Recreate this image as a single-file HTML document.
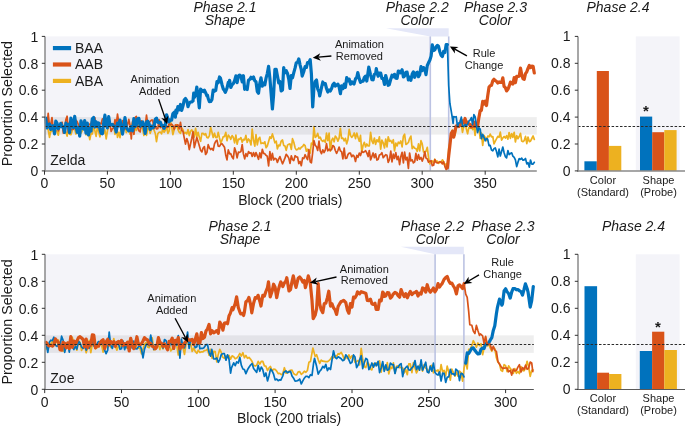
<!DOCTYPE html>
<html><head><meta charset="utf-8"><style>
html,body{margin:0;padding:0;background:#fff;}
svg{display:block;will-change:transform;}
.t{font-family:"Liberation Sans",sans-serif;font-size:14px;fill:#1a1a1a;}
.ti{font-family:"Liberation Sans",sans-serif;font-size:14px;font-style:italic;fill:#1a1a1a;}
.yl{font-size:14.25px;}
.a{font-family:"Liberation Sans",sans-serif;font-size:11px;fill:#1a1a1a;}
.star{font-family:"Liberation Sans",sans-serif;font-size:15px;font-weight:bold;fill:#1a1a1a;}
</style></head><body>
<svg width="685" height="430" viewBox="0 0 685 430">
<rect x="45.0" y="36.400000000000006" width="385.3" height="134.5" fill="#F4F4F9"/>
<polygon points="386,28.2 448.7,28.2 448.7,36.400000000000006 430.3,36.400000000000006" fill="#E4E7F8"/>
<rect x="45.0" y="117.1" width="491.8" height="17.5" fill="#000" fill-opacity="0.065"/>
<line x1="430.3" y1="36.400000000000006" x2="430.3" y2="170.9" stroke="#BCC3E3" stroke-width="1.6"/>
<line x1="448.7" y1="36.400000000000006" x2="448.7" y2="170.9" stroke="#BCC3E3" stroke-width="1.6"/>
<path d="M45.7,122.7 L47.0,128.1 L48.2,129.5 L49.5,137.4 L50.7,131.0 L52.0,131.3 L53.3,130.2 L54.5,132.4 L55.8,130.1 L57.0,131.8 L58.3,135.2 L59.6,126.3 L60.8,126.3 L62.1,123.0 L63.3,129.7 L64.6,131.5 L65.9,132.1 L67.1,136.1 L68.4,125.9 L69.6,134.3 L70.9,134.7 L72.2,130.7 L73.4,123.9 L74.7,128.9 L75.9,134.0 L77.2,132.8 L78.5,127.4 L79.7,130.5 L81.0,133.0 L82.2,130.8 L83.5,126.9 L84.7,121.9 L86.0,134.9 L87.3,132.4 L88.5,133.1 L89.8,139.6 L91.0,133.6 L92.3,134.0 L93.6,125.3 L94.8,130.4 L96.1,136.4 L97.3,127.3 L98.6,131.3 L99.9,136.9 L101.1,132.3 L102.4,132.3 L103.6,133.4 L104.9,129.8 L106.2,138.9 L107.4,131.0 L108.7,125.8 L109.9,126.4 L111.2,125.4 L112.5,125.4 L113.7,123.9 L115.0,134.4 L116.2,126.5 L117.5,137.4 L118.7,132.3 L120.0,137.6 L121.3,125.6 L122.5,124.5 L123.8,130.7 L125.0,122.7 L126.3,132.6 L127.6,129.3 L128.8,129.3 L130.1,134.2 L131.3,128.1 L132.6,122.1 L133.9,134.0 L135.1,126.2 L136.4,130.5 L137.6,122.7 L138.9,127.9 L140.2,127.1 L141.4,127.3 L142.7,128.9 L143.9,135.5 L145.2,124.3 L146.5,135.4 L147.7,128.9 L149.0,127.4 L150.2,133.3 L151.5,129.3 L152.7,125.2 L154.0,130.0 L155.3,133.5 L156.5,141.6 L157.8,133.8 L159.0,132.3 L160.3,132.0 L161.6,133.8 L162.8,128.4 L164.1,132.2 L165.3,130.3 L166.6,127.1 L167.9,133.3 L169.1,131.1 L170.4,121.2 L171.6,126.1 L172.9,134.6 L174.2,129.5 L175.4,127.2 L176.7,124.7 L177.9,129.3 L179.2,132.2 L180.5,133.3 L181.7,127.9 L183.0,129.7 L184.2,133.4 L185.5,132.5 L186.8,133.8 L188.0,129.5 L189.3,135.6 L190.5,131.3 L191.8,129.9 L193.0,131.5 L194.3,137.0 L195.6,128.3 L196.8,136.6 L198.1,132.3 L199.3,137.1 L200.6,141.3 L201.9,133.4 L203.1,133.3 L204.4,134.9 L205.6,133.6 L206.9,137.4 L208.2,137.9 L209.4,135.7 L210.7,127.4 L211.9,132.0 L213.2,137.5 L214.5,133.2 L215.7,137.5 L217.0,137.6 L218.2,132.4 L219.5,138.0 L220.8,143.0 L222.0,140.2 L223.3,136.5 L224.5,136.6 L225.8,132.4 L227.0,140.7 L228.3,135.1 L229.6,136.7 L230.8,139.3 L232.1,135.6 L233.3,137.3 L234.6,142.8 L235.9,135.0 L237.1,144.2 L238.4,139.1 L239.6,139.3 L240.9,137.6 L242.2,142.2 L243.4,139.4 L244.7,139.9 L245.9,135.3 L247.2,142.5 L248.5,139.0 L249.7,140.5 L251.0,144.9 L252.2,129.0 L253.5,140.3 L254.8,146.1 L256.0,134.6 L257.3,144.8 L258.5,139.1 L259.8,137.3 L261.0,143.6 L262.3,142.9 L263.6,143.5 L264.8,141.8 L266.1,147.7 L267.3,146.1 L268.6,141.6 L269.9,136.8 L271.1,138.4 L272.4,133.9 L273.6,138.0 L274.9,142.8 L276.2,141.2 L277.4,148.8 L278.7,145.0 L279.9,145.8 L281.2,141.1 L282.5,140.0 L283.7,145.4 L285.0,146.0 L286.2,150.4 L287.5,145.2 L288.8,144.2 L290.0,143.9 L291.3,149.3 L292.5,138.7 L293.8,142.2 L295.1,147.8 L296.3,149.9 L297.6,149.5 L298.8,147.9 L300.1,149.0 L301.3,147.3 L302.6,146.5 L303.9,144.5 L305.1,145.7 L306.4,151.2 L307.6,149.2 L308.9,152.3 L310.2,153.1 L311.4,143.0 L312.7,144.5 L313.9,126.6 L315.2,137.3 L316.5,136.3 L317.7,133.4 L319.0,138.2 L320.2,137.2 L321.5,140.3 L322.8,141.3 L324.0,140.2 L325.3,142.3 L326.5,133.2 L327.8,140.6 L329.1,133.1 L330.3,151.1 L331.6,140.3 L332.8,138.2 L334.1,141.8 L335.3,136.0 L336.6,137.7 L337.9,141.1 L339.1,138.1 L340.4,128.3 L341.6,138.4 L342.9,138.0 L344.2,140.8 L345.4,138.3 L346.7,143.8 L347.9,139.8 L349.2,129.4 L350.5,135.3 L351.7,137.4 L353.0,135.8 L354.2,133.0 L355.5,138.6 L356.8,133.0 L358.0,137.3 L359.3,141.3 L360.5,135.4 L361.8,152.2 L363.1,145.3 L364.3,142.3 L365.6,147.0 L366.8,144.0 L368.1,145.9 L369.3,146.0 L370.6,132.4 L371.9,140.8 L373.1,143.5 L374.4,138.0 L375.6,144.3 L376.9,139.8 L378.2,141.9 L379.4,136.8 L380.7,149.1 L381.9,140.2 L383.2,142.8 L384.5,148.0 L385.7,139.0 L387.0,146.8 L388.2,136.8 L389.5,141.3 L390.8,140.5 L392.0,143.0 L393.3,139.7 L394.5,150.9 L395.8,143.0 L397.1,145.9 L398.3,142.2 L399.6,143.5 L400.8,140.9 L402.1,146.8 L403.4,136.1 L404.6,134.2 L405.9,144.4 L407.1,143.7 L408.4,142.5 L409.6,138.6 L410.9,136.1 L412.2,148.7 L413.4,146.4 L414.7,148.2 L415.9,148.5 L417.2,151.3 L418.5,143.9 L419.7,150.8 L421.0,140.7 L422.2,143.8 L423.5,151.9 L424.8,152.1 L426.0,151.2 L427.3,147.4 L428.5,157.3 L429.8,163.9 L431.1,161.6 L432.3,161.0 L433.6,162.8 L434.8,159.2 L436.1,161.5 L437.4,161.2 L438.6,163.4 L439.9,162.1 L441.1,162.4 L442.4,159.8 L443.6,161.7 L444.9,165.7 L446.2,163.6 L447.4,167.8 L448.7,148.2 L449.9,142.9 L451.2,135.7 L452.5,130.1 L453.7,132.3 L455.0,135.4 L456.2,128.8 L457.5,124.6 L458.8,127.2 L460.0,124.8 L461.3,124.2 L462.5,132.3 L463.8,126.2 L465.1,120.5 L466.3,128.9 L467.6,133.8 L468.8,127.6 L470.1,128.3 L471.4,125.3 L472.6,129.6 L473.9,126.2 L475.1,135.3 L476.4,126.3 L477.6,125.2 L478.9,127.5 L480.2,138.3 L481.4,133.2 L482.7,145.3 L483.9,135.3 L485.2,137.5 L486.5,140.6 L487.7,136.1 L489.0,136.8 L490.2,134.1 L491.5,136.8 L492.8,136.5 L494.0,143.8 L495.3,141.2 L496.5,138.9 L497.8,136.3 L499.1,137.3 L500.3,132.2 L501.6,140.2 L502.8,138.1 L504.1,136.4 L505.4,138.1 L506.6,135.6 L507.9,139.2 L509.1,132.5 L510.4,138.3 L511.7,133.5 L512.9,137.4 L514.2,132.3 L515.4,142.0 L516.7,135.5 L517.9,138.7 L519.2,136.5 L520.5,133.3 L521.7,141.1 L523.0,141.7 L524.2,140.6 L525.5,136.4 L526.8,143.6 L528.0,137.0 L529.3,141.6 L530.5,141.1 L531.8,138.5 L533.1,136.0 L534.3,139.4" fill="none" stroke="#EDB120" stroke-width="1.7" stroke-linejoin="round" stroke-linecap="round"/>
<path d="M45.7,123.0 L47.0,126.8 L48.2,113.4 L49.5,126.4 L50.7,124.6 L52.0,117.5 L53.3,129.6 L54.5,128.0 L55.8,124.3 L57.0,126.8 L58.3,130.9 L59.6,126.2 L60.8,126.9 L62.1,122.2 L63.3,133.2 L64.6,128.6 L65.9,119.6 L67.1,116.2 L68.4,132.5 L69.6,122.0 L70.9,129.9 L72.2,129.3 L73.4,129.4 L74.7,127.2 L75.9,120.3 L77.2,121.7 L78.5,124.9 L79.7,126.9 L81.0,125.2 L82.2,125.7 L83.5,121.3 L84.7,128.2 L86.0,125.2 L87.3,125.7 L88.5,125.4 L89.8,124.0 L91.0,124.2 L92.3,118.7 L93.6,125.6 L94.8,117.6 L96.1,126.7 L97.3,127.5 L98.6,124.7 L99.9,123.4 L101.1,123.9 L102.4,118.9 L103.6,119.7 L104.9,122.8 L106.2,126.8 L107.4,125.7 L108.7,118.3 L109.9,124.1 L111.2,131.5 L112.5,128.5 L113.7,128.0 L115.0,119.6 L116.2,125.7 L117.5,114.2 L118.7,122.0 L120.0,124.6 L121.3,127.3 L122.5,120.5 L123.8,126.3 L125.0,129.2 L126.3,122.4 L127.6,125.1 L128.8,119.4 L130.1,125.5 L131.3,139.0 L132.6,121.3 L133.9,134.3 L135.1,117.7 L136.4,116.4 L137.6,127.2 L138.9,130.8 L140.2,131.9 L141.4,120.9 L142.7,126.1 L143.9,128.1 L145.2,126.3 L146.5,115.1 L147.7,123.5 L149.0,121.6 L150.2,121.4 L151.5,120.2 L152.7,120.0 L154.0,128.6 L155.3,126.2 L156.5,128.9 L157.8,128.6 L159.0,119.6 L160.3,127.6 L161.6,125.6 L162.8,128.5 L164.1,128.0 L165.3,121.4 L166.6,127.3 L167.9,127.5 L169.1,123.8 L170.4,124.8 L171.6,124.2 L172.9,125.5 L174.2,129.4 L175.4,124.9 L176.7,125.5 L177.9,124.8 L179.2,128.9 L180.5,122.4 L181.7,130.3 L183.0,131.3 L184.2,137.6 L185.5,144.1 L186.8,138.5 L188.0,142.1 L189.3,149.6 L190.5,144.0 L191.8,138.2 L193.0,131.8 L194.3,147.6 L195.6,142.5 L196.8,137.4 L198.1,141.6 L199.3,145.8 L200.6,150.2 L201.9,151.9 L203.1,148.0 L204.4,146.7 L205.6,154.5 L206.9,152.5 L208.2,144.7 L209.4,147.9 L210.7,149.5 L211.9,148.3 L213.2,150.4 L214.5,143.8 L215.7,141.4 L217.0,140.1 L218.2,146.1 L219.5,146.4 L220.8,144.1 L222.0,143.7 L223.3,145.5 L224.5,147.2 L225.8,155.3 L227.0,159.9 L228.3,149.9 L229.6,153.8 L230.8,153.7 L232.1,157.1 L233.3,158.8 L234.6,147.9 L235.9,151.7 L237.1,157.9 L238.4,152.1 L239.6,152.4 L240.9,151.6 L242.2,144.7 L243.4,153.9 L244.7,158.9 L245.9,153.6 L247.2,156.4 L248.5,151.6 L249.7,153.1 L251.0,152.7 L252.2,156.5 L253.5,152.6 L254.8,156.5 L256.0,152.5 L257.3,155.9 L258.5,159.3 L259.8,152.9 L261.0,157.9 L262.3,149.3 L263.6,153.5 L264.8,153.7 L266.1,155.4 L267.3,156.3 L268.6,166.0 L269.9,151.7 L271.1,160.2 L272.4,153.3 L273.6,160.0 L274.9,158.3 L276.2,158.9 L277.4,162.4 L278.7,159.1 L279.9,156.6 L281.2,160.3 L282.5,163.8 L283.7,161.1 L285.0,157.9 L286.2,154.4 L287.5,155.8 L288.8,158.1 L290.0,163.4 L291.3,155.8 L292.5,159.5 L293.8,160.5 L295.1,155.7 L296.3,156.8 L297.6,157.1 L298.8,163.7 L300.1,161.4 L301.3,165.7 L302.6,157.9 L303.9,158.5 L305.1,154.7 L306.4,157.5 L307.6,159.7 L308.9,149.5 L310.2,161.9 L311.4,162.8 L312.7,152.5 L313.9,140.5 L315.2,145.2 L316.5,146.7 L317.7,150.5 L319.0,141.2 L320.2,150.8 L321.5,153.7 L322.8,149.8 L324.0,152.5 L325.3,150.1 L326.5,143.7 L327.8,150.8 L329.1,149.2 L330.3,150.4 L331.6,149.6 L332.8,145.5 L334.1,146.6 L335.3,150.5 L336.6,153.3 L337.9,150.5 L339.1,147.0 L340.4,150.9 L341.6,151.7 L342.9,158.9 L344.2,148.0 L345.4,158.5 L346.7,158.1 L347.9,154.6 L349.2,153.1 L350.5,153.2 L351.7,156.7 L353.0,155.1 L354.2,156.4 L355.5,161.5 L356.8,155.4 L358.0,157.3 L359.3,153.0 L360.5,155.5 L361.8,151.2 L363.1,152.4 L364.3,151.8 L365.6,150.7 L366.8,152.9 L368.1,156.5 L369.3,150.5 L370.6,159.9 L371.9,156.4 L373.1,153.0 L374.4,157.7 L375.6,153.8 L376.9,160.1 L378.2,159.2 L379.4,155.0 L380.7,154.4 L381.9,152.6 L383.2,157.7 L384.5,156.1 L385.7,154.7 L387.0,155.3 L388.2,162.3 L389.5,159.3 L390.8,151.1 L392.0,161.9 L393.3,154.2 L394.5,158.4 L395.8,152.6 L397.1,159.7 L398.3,156.3 L399.6,164.6 L400.8,156.7 L402.1,152.3 L403.4,162.8 L404.6,152.1 L405.9,159.9 L407.1,157.3 L408.4,168.4 L409.6,153.0 L410.9,161.0 L412.2,159.8 L413.4,162.9 L414.7,161.9 L415.9,153.4 L417.2,160.2 L418.5,154.7 L419.7,159.3 L421.0,157.4 L422.2,161.1 L423.5,157.8 L424.8,151.6 L426.0,158.1 L427.3,158.9 L428.5,162.2 L429.8,161.2 L431.1,160.7 L432.3,165.7 L433.6,165.3 L434.8,159.7 L436.1,162.5 L437.4,163.0 L438.6,162.4 L439.9,161.6 L441.1,162.1 L442.4,163.9 L443.6,161.7 L444.9,166.6 L446.2,169.7 L447.4,167.9" fill="none" stroke="#D95319" stroke-width="1.7" stroke-linejoin="round" stroke-linecap="round"/>
<path d="M447.4,167.9 L448.7,155.9 L449.9,145.2 L451.2,133.6 L452.5,131.3 L453.7,137.2 L455.0,130.8 L456.2,125.9 L457.5,125.4 L458.8,126.5 L460.0,125.1 L461.3,120.2 L462.5,121.6 L463.8,122.8 L465.1,118.5 L466.3,123.6 L467.6,122.1 L468.8,124.1 L470.1,124.5 L471.4,127.1 L472.6,126.6 L473.9,122.1 L475.1,126.7 L476.4,123.5 L477.6,126.2 L478.9,117.6 L480.2,110.5 L481.4,110.3 L482.7,101.4 L483.9,104.0 L485.2,101.2 L486.5,105.5 L487.7,96.0 L489.0,87.3 L490.2,85.7 L491.5,85.2 L492.8,80.7 L494.0,79.2 L495.3,80.7 L496.5,81.4 L497.8,83.1 L499.1,81.9 L500.3,82.5 L501.6,82.3 L502.8,77.8 L504.1,86.5 L505.4,87.6 L506.6,90.9 L507.9,89.3 L509.1,86.4 L510.4,82.1 L511.7,83.5 L512.9,84.0 L514.2,77.5 L515.4,82.6 L516.7,76.4 L517.9,76.5 L519.2,76.2 L520.5,68.0 L521.7,74.5 L523.0,78.8 L524.2,79.3 L525.5,73.7 L526.8,71.8 L528.0,68.4 L529.3,65.5 L530.5,67.6 L531.8,66.2 L533.1,66.4 L534.3,73.0" fill="none" stroke="#D95319" stroke-width="3.2" stroke-linejoin="round" stroke-linecap="round"/>
<path d="M45.7,118.1 L47.0,128.0 L48.2,125.7 L49.5,124.0 L50.7,129.4 L52.0,125.8 L53.3,125.8 L54.5,133.8 L55.8,121.1 L57.0,123.0 L58.3,128.6 L59.6,126.5 L60.8,123.4 L62.1,126.9 L63.3,126.8 L64.6,132.4 L65.9,123.2 L67.1,125.2 L68.4,124.5 L69.6,132.7 L70.9,118.1 L72.2,125.0 L73.4,127.5 L74.7,116.4 L75.9,125.9 L77.2,132.3 L78.5,127.5 L79.7,136.1 L81.0,120.8 L82.2,127.5 L83.5,129.0 L84.7,120.7 L86.0,133.2 L87.3,123.2 L88.5,135.0 L89.8,128.6 L91.0,131.1 L92.3,118.9 L93.6,117.5 L94.8,127.1 L96.1,121.7 L97.3,126.4 L98.6,122.9 L99.9,129.0 L101.1,133.3 L102.4,133.8 L103.6,123.8 L104.9,115.2 L106.2,124.3 L107.4,127.9 L108.7,116.7 L109.9,124.4 L111.2,125.0 L112.5,124.3 L113.7,126.1 L115.0,126.9 L116.2,132.0 L117.5,123.1 L118.7,125.9 L120.0,120.0 L121.3,127.1 L122.5,134.1 L123.8,125.9 L125.0,117.6 L126.3,127.1 L127.6,129.5 L128.8,130.8 L130.1,130.2 L131.3,126.7 L132.6,130.8 L133.9,118.5 L135.1,126.6 L136.4,124.8 L137.6,118.8 L138.9,118.4 L140.2,126.3 L141.4,123.8 L142.7,121.9 L143.9,126.2 L145.2,133.4 L146.5,122.3 L147.7,121.2 L149.0,123.4 L150.2,129.5 L151.5,126.1 L152.7,127.9 L154.0,126.6 L155.3,119.3 L156.5,118.2 L157.8,122.2 L159.0,122.7 L160.3,122.1 L161.6,125.3 L162.8,125.5 L164.1,128.3 L165.3,125.4 L166.6,114.8 L167.9,118.7 L169.1,121.8 L170.4,119.9 L171.6,120.1 L172.9,113.6 L174.2,112.3 L175.4,117.1 L176.0,110.2 L176.7,113.1 L177.9,106.6 L179.2,109.8 L180.5,104.5 L181.7,110.4 L183.0,105.8 L184.2,100.1 L185.5,98.5 L186.8,100.6 L188.0,106.6 L189.3,103.1 L190.5,102.0 L191.8,101.8 L193.0,101.0 L193.7,93.1 L194.3,97.5 L195.6,95.1 L196.8,87.0 L198.1,96.5 L199.3,107.9 L200.6,89.2 L201.9,90.6 L203.1,91.5 L204.4,90.2 L205.6,92.7 L206.9,95.8 L207.5,95.3 L208.2,98.5 L209.4,101.7 L210.7,101.5 L211.9,99.7 L213.2,90.0 L214.1,91.5 L215.7,90.5 L217.0,81.6 L218.2,82.7 L219.5,77.0 L220.5,78.3 L222.0,84.7 L223.3,89.0 L224.5,90.7 L225.3,92.4 L227.0,88.1 L228.3,82.4 L228.9,84.0 L229.6,80.3 L230.8,87.5 L232.1,84.6 L233.3,83.7 L234.6,80.6 L235.9,75.9 L237.1,82.7 L238.4,76.1 L239.6,75.1 L240.9,76.1 L242.2,82.0 L242.8,78.2 L243.4,75.7 L244.7,89.3 L245.9,87.0 L246.6,86.9 L247.2,89.5 L248.5,80.1 L249.7,79.5 L251.0,77.3 L252.2,78.6 L253.5,77.0 L254.8,80.8 L256.0,81.8 L257.3,91.6 L258.5,93.3 L259.8,83.3 L261.0,77.8 L262.3,86.2 L263.6,83.1 L264.8,84.9 L266.1,77.9 L267.3,73.6 L268.6,66.4 L269.9,78.4 L271.1,93.0 L272.4,109.0 L273.6,94.8 L274.9,69.4 L276.2,69.3 L277.4,75.8 L278.7,82.9 L279.9,81.4 L281.2,91.0 L282.5,90.0 L283.7,67.5 L284.5,73.0 L286.2,70.6 L287.5,73.4 L288.8,79.4 L290.0,88.5 L291.3,75.5 L292.5,77.9 L293.8,72.7 L295.1,67.9 L296.3,62.7 L297.6,62.3 L298.8,58.9 L300.1,65.1 L301.3,69.5 L302.2,76.1 L303.9,71.2 L305.1,66.7 L306.4,67.4 L307.6,62.5 L308.9,62.6 L310.2,59.7 L311.4,73.9 L312.7,106.9 L313.9,88.4 L315.2,81.6 L316.5,80.0 L317.7,88.8 L319.0,91.8 L319.7,96.0 L321.5,87.6 L322.8,82.0 L323.4,84.3 L324.0,83.5 L325.3,83.6 L326.5,88.5 L327.8,92.0 L329.1,90.0 L330.3,91.0 L331.6,88.6 L332.8,84.7 L334.1,83.2 L335.3,86.1 L336.6,85.0 L337.9,84.2 L339.1,86.9 L340.4,93.7 L341.6,85.8 L342.9,88.7 L344.2,84.1 L345.4,87.4 L346.7,77.7 L347.9,80.8 L349.2,79.1 L350.5,84.2 L351.7,81.8 L353.0,83.2 L354.0,84.0 L355.5,78.9 L356.8,77.4 L357.8,72.5 L359.3,79.0 L360.5,82.4 L361.8,81.3 L363.1,81.2 L364.3,77.6 L365.6,76.1 L366.8,81.0 L368.1,71.9 L368.8,67.0 L370.6,75.1 L371.9,79.6 L372.5,78.5 L373.1,79.8 L374.4,74.2 L375.6,73.9 L376.3,68.6 L376.9,71.7 L378.2,76.2 L379.4,73.2 L380.7,73.1 L381.9,78.4 L383.2,78.5 L384.5,84.5 L385.7,75.5 L387.0,80.3 L388.2,85.3 L389.2,84.7 L390.8,79.0 L392.0,75.2 L393.3,76.8 L394.5,74.3 L395.8,78.2 L397.1,78.3 L398.3,71.1 L399.6,71.6 L400.3,72.8 L402.1,69.8 L403.4,77.0 L404.6,76.0 L405.9,72.4 L407.1,72.2 L408.4,79.9 L409.6,77.2 L410.9,80.3 L412.2,74.0 L413.4,71.9 L414.7,77.3 L415.9,73.1 L417.2,72.3 L418.5,76.7 L419.7,74.7 L421.0,66.7 L422.2,70.7 L423.5,67.6 L424.8,69.2 L426.0,74.6 L427.3,65.5 L428.5,62.8 L429.8,60.3 L431.1,56.1 L432.3,44.9 L433.6,50.5 L434.8,49.9 L436.1,46.8 L437.4,45.4 L438.4,46.0 L439.9,52.0 L441.1,55.3 L442.4,56.5 L443.6,51.3 L444.9,52.5 L446.2,44.5 L447.4,44.5" fill="none" stroke="#0072BD" stroke-width="3.2" stroke-linejoin="round" stroke-linecap="round"/>
<path d="M447.4,44.5 L448.7,85.7 L449.9,103.5 L451.2,110.8 L452.5,119.0 L453.1,123.4 L453.7,116.7 L455.0,117.0 L456.2,116.7 L457.5,126.6 L458.8,122.8 L460.0,122.9 L461.3,117.2 L462.5,125.6 L463.8,126.7 L465.1,124.4 L466.3,125.8 L467.6,124.2 L468.8,121.2 L470.1,120.2 L471.4,117.6 L472.6,124.7 L473.9,114.7 L475.1,116.6 L476.4,124.8 L477.6,132.6 L478.9,127.8 L480.2,129.0 L481.4,138.7 L482.7,134.4 L483.9,137.1 L485.2,140.8 L486.5,138.5 L487.7,139.3 L489.0,145.6 L490.2,145.4 L491.5,150.0 L492.8,150.8 L494.0,148.7 L495.3,147.9 L496.5,151.6 L497.8,156.9 L499.1,149.1 L500.3,156.0 L501.6,151.4 L502.8,147.0 L504.1,152.7 L505.4,156.7 L506.6,157.9 L507.9,150.6 L509.1,154.6 L510.4,153.5 L511.7,152.8 L512.9,156.2 L514.2,157.4 L515.4,159.8 L516.7,166.6 L517.9,162.4 L519.2,158.6 L520.5,159.4 L521.7,158.2 L523.0,160.2 L524.2,159.9 L525.5,158.5 L526.8,163.9 L528.0,162.7 L529.3,167.1 L530.5,160.0 L531.8,164.1 L533.1,164.1 L534.3,162.3" fill="none" stroke="#0072BD" stroke-width="1.7" stroke-linejoin="round" stroke-linecap="round"/>
<line x1="45.0" y1="126.5" x2="536.8" y2="126.5" stroke="#2a2a2a" stroke-width="1.1" stroke-dasharray="2.5,1.7"/>
<line x1="45.0" y1="36.400000000000006" x2="45.0" y2="171.65" stroke="#8a8a8a" stroke-width="1.5"/>
<line x1="44.25" y1="170.9" x2="536.8" y2="170.9" stroke="#8a8a8a" stroke-width="1.5"/>
<line x1="41.8" y1="170.9" x2="45.0" y2="170.9" stroke="#333" stroke-width="1"/>
<text transform="translate(38.3,176.1) scale(1.0,1)" text-anchor="end" class="t">0</text>
<line x1="41.8" y1="144.0" x2="45.0" y2="144.0" stroke="#333" stroke-width="1"/>
<text transform="translate(38.3,149.2) scale(1.0,1)" text-anchor="end" class="t">0.2</text>
<line x1="41.8" y1="117.1" x2="45.0" y2="117.1" stroke="#333" stroke-width="1"/>
<text transform="translate(38.3,122.3) scale(1.0,1)" text-anchor="end" class="t">0.4</text>
<line x1="41.8" y1="90.2" x2="45.0" y2="90.2" stroke="#333" stroke-width="1"/>
<text transform="translate(38.3,95.4) scale(1.0,1)" text-anchor="end" class="t">0.6</text>
<line x1="41.8" y1="63.3" x2="45.0" y2="63.3" stroke="#333" stroke-width="1"/>
<text transform="translate(38.3,68.5) scale(1.0,1)" text-anchor="end" class="t">0.8</text>
<line x1="41.8" y1="36.4" x2="45.0" y2="36.4" stroke="#333" stroke-width="1"/>
<text transform="translate(38.3,41.6) scale(1.0,1)" text-anchor="end" class="t">1</text>
<line x1="44.5" y1="170.9" x2="44.5" y2="174.70000000000002" stroke="#333" stroke-width="1"/>
<text transform="translate(44.5,188.4) scale(1.0,1)" text-anchor="middle" class="t">0</text>
<line x1="107.4" y1="170.9" x2="107.4" y2="174.70000000000002" stroke="#333" stroke-width="1"/>
<text transform="translate(107.4,188.4) scale(1.0,1)" text-anchor="middle" class="t">50</text>
<line x1="170.4" y1="170.9" x2="170.4" y2="174.70000000000002" stroke="#333" stroke-width="1"/>
<text transform="translate(170.4,188.4) scale(1.0,1)" text-anchor="middle" class="t">100</text>
<line x1="233.3" y1="170.9" x2="233.3" y2="174.70000000000002" stroke="#333" stroke-width="1"/>
<text transform="translate(233.3,188.4) scale(1.0,1)" text-anchor="middle" class="t">150</text>
<line x1="296.3" y1="170.9" x2="296.3" y2="174.70000000000002" stroke="#333" stroke-width="1"/>
<text transform="translate(296.3,188.4) scale(1.0,1)" text-anchor="middle" class="t">200</text>
<line x1="359.3" y1="170.9" x2="359.3" y2="174.70000000000002" stroke="#333" stroke-width="1"/>
<text transform="translate(359.3,188.4) scale(1.0,1)" text-anchor="middle" class="t">250</text>
<line x1="422.2" y1="170.9" x2="422.2" y2="174.70000000000002" stroke="#333" stroke-width="1"/>
<text transform="translate(422.2,188.4) scale(1.0,1)" text-anchor="middle" class="t">300</text>
<line x1="485.2" y1="170.9" x2="485.2" y2="174.70000000000002" stroke="#333" stroke-width="1"/>
<text transform="translate(485.2,188.4) scale(1.0,1)" text-anchor="middle" class="t">350</text>
<rect x="45.0" y="254.3" width="390.1" height="135.0" fill="#F4F4F9"/>
<polygon points="400.8,246.8 463.9,246.8 463.9,254.3 435.1,254.3" fill="#E4E7F8"/>
<rect x="45.0" y="335.3" width="488.8" height="17.6" fill="#000" fill-opacity="0.065"/>
<line x1="435.1" y1="254.3" x2="435.1" y2="389.3" stroke="#BCC3E3" stroke-width="1.6"/>
<line x1="463.9" y1="254.3" x2="463.9" y2="389.3" stroke="#BCC3E3" stroke-width="1.6"/>
<path d="M46.2,349.0 L47.8,343.0 L49.3,346.3 L50.8,344.3 L52.4,340.7 L53.9,343.9 L55.4,340.6 L57.0,342.6 L58.5,340.1 L60.0,350.3 L61.6,349.3 L63.1,351.2 L64.7,343.8 L66.2,347.1 L67.7,342.4 L69.3,344.8 L70.8,345.6 L72.3,337.4 L73.9,343.6 L75.4,346.2 L76.9,350.1 L78.5,341.3 L80.0,342.2 L81.6,350.5 L83.1,346.7 L84.6,345.1 L86.2,352.7 L87.7,347.2 L89.2,340.4 L90.8,352.6 L92.3,344.1 L93.8,338.4 L95.4,348.6 L96.9,347.9 L98.5,345.2 L100.0,344.0 L101.5,344.5 L103.1,352.2 L104.6,349.2 L106.1,345.7 L107.7,347.4 L109.2,341.5 L110.7,347.4 L112.3,347.6 L113.8,338.6 L115.4,346.4 L116.9,350.1 L118.4,346.1 L120.0,347.0 L121.5,343.2 L123.0,344.3 L124.6,347.4 L126.1,347.7 L127.6,348.2 L129.2,340.6 L130.7,337.9 L132.3,346.3 L133.8,343.8 L135.3,344.6 L136.9,348.2 L138.4,348.2 L139.9,348.0 L141.5,353.9 L143.0,349.2 L144.5,344.3 L146.1,342.4 L147.6,346.9 L149.2,347.6 L150.7,343.5 L152.2,337.8 L153.8,349.9 L155.3,349.2 L156.8,347.9 L158.4,343.9 L159.9,349.6 L161.4,344.2 L163.0,349.0 L164.5,343.8 L166.1,347.4 L167.6,347.8 L169.1,342.8 L170.7,350.9 L172.2,349.2 L173.7,343.1 L175.3,343.0 L176.8,345.3 L178.3,355.0 L179.9,343.2 L181.4,344.7 L183.0,347.5 L184.5,354.5 L186.0,343.8 L187.6,340.6 L189.1,346.2 L190.6,343.4 L192.2,351.5 L193.7,348.1 L195.2,351.4 L196.8,353.3 L198.3,350.2 L199.9,352.5 L201.4,351.8 L202.9,351.9 L204.5,350.5 L206.0,350.4 L207.5,349.2 L209.1,355.2 L210.6,349.3 L212.1,358.4 L213.7,351.3 L215.2,351.6 L216.8,361.8 L218.3,354.2 L219.8,349.3 L221.4,352.7 L222.9,357.4 L224.4,358.4 L226.0,355.9 L227.5,357.3 L229.0,355.4 L230.6,359.1 L232.1,355.8 L233.7,356.7 L235.2,358.8 L236.7,358.1 L238.3,356.2 L239.8,353.4 L241.3,356.1 L242.9,352.7 L244.4,357.8 L245.9,355.4 L247.5,358.3 L249.0,357.4 L250.6,359.3 L252.1,361.5 L253.6,365.3 L255.2,366.1 L256.7,365.2 L258.2,361.3 L259.8,364.1 L261.3,361.3 L262.8,361.4 L264.4,365.9 L265.9,366.2 L267.5,370.5 L269.0,367.8 L270.5,366.5 L272.1,370.9 L273.6,369.2 L275.1,369.3 L276.7,371.1 L278.2,373.7 L279.7,373.3 L281.3,374.7 L282.8,373.8 L284.4,367.7 L285.9,373.1 L287.4,373.0 L289.0,370.9 L290.0,370.4 L292.0,370.0 L293.6,373.5 L295.1,374.6 L296.6,374.9 L298.2,371.8 L299.7,371.6 L301.3,374.4 L302.8,373.1 L304.3,371.2 L305.9,372.3 L307.4,370.5 L308.9,362.3 L310.5,361.4 L312.0,352.8 L312.9,348.0 L315.1,356.4 L316.6,354.7 L318.2,359.6 L319.7,363.4 L321.2,360.1 L322.8,361.2 L324.3,361.4 L325.8,361.6 L327.4,361.7 L328.9,360.6 L330.0,359.7 L332.0,356.6 L333.5,357.8 L335.1,355.8 L336.6,356.3 L338.1,353.7 L339.1,354.3 L341.2,352.4 L342.7,355.1 L344.3,359.5 L345.8,357.0 L347.4,358.5 L348.9,354.9 L350.4,358.4 L352.0,355.8 L353.5,356.8 L355.0,362.4 L356.6,361.4 L358.1,360.4 L359.6,364.9 L361.2,348.3 L362.7,359.5 L364.3,366.7 L365.8,367.5 L367.3,362.0 L368.9,364.2 L370.4,369.0 L371.9,369.9 L373.5,363.7 L375.0,365.8 L376.5,362.9 L378.1,365.1 L379.6,360.8 L381.2,372.2 L382.7,363.3 L384.2,368.9 L385.8,369.6 L387.3,362.7 L388.8,373.9 L390.4,367.2 L391.9,368.5 L393.4,362.9 L395.0,373.2 L396.5,366.3 L398.1,365.8 L399.6,367.7 L401.1,367.2 L402.7,368.1 L404.2,373.0 L405.7,369.5 L407.3,374.7 L408.8,363.8 L410.3,363.8 L411.9,372.6 L413.4,362.7 L415.0,367.9 L416.5,373.0 L418.0,369.9 L419.6,365.0 L421.1,367.5 L422.6,371.1 L424.2,364.5 L425.7,368.2 L427.2,369.5 L428.8,372.6 L430.3,366.3 L431.9,365.3 L433.4,372.8 L434.9,370.2 L436.5,370.9 L438.0,370.0 L439.5,375.5 L441.1,364.6 L442.6,371.9 L444.1,370.4 L445.7,375.7 L447.2,366.2 L448.8,372.0 L450.3,380.1 L451.8,369.1 L453.4,372.7 L454.9,376.2 L456.4,372.0 L458.0,376.2 L459.5,371.1 L461.0,372.5 L462.6,381.1 L464.1,367.9 L465.7,361.0 L467.2,369.0 L468.7,349.3 L470.3,349.0 L471.8,345.7 L473.3,340.7 L474.9,343.6 L476.4,347.2 L477.9,343.0 L479.5,345.5 L481.0,343.7 L482.6,354.7 L484.1,348.0 L485.6,337.1 L487.2,346.0 L488.7,344.5 L490.2,347.8 L491.8,351.2 L493.3,347.5 L494.8,348.7 L496.4,357.8 L497.9,362.1 L499.5,363.8 L501.0,370.3 L502.5,371.3 L504.1,364.6 L505.6,365.6 L507.1,371.6 L508.7,365.8 L510.2,368.4 L511.7,370.0 L513.3,373.4 L514.8,368.5 L516.4,373.3 L517.9,371.5 L519.4,373.5 L521.0,366.5 L522.5,370.5 L524.0,370.8 L525.6,368.3 L527.1,361.3 L528.6,366.7 L530.2,376.4 L531.7,370.4 L533.3,370.0" fill="none" stroke="#EDB120" stroke-width="1.7" stroke-linejoin="round" stroke-linecap="round"/>
<path d="M46.2,343.6 L47.8,352.3 L49.3,342.3 L50.8,340.2 L52.4,340.6 L53.9,337.2 L55.4,345.3 L57.0,346.4 L58.5,344.3 L60.0,346.7 L61.6,336.2 L63.1,340.3 L64.7,352.4 L66.2,345.6 L67.7,342.8 L69.3,352.2 L70.8,339.7 L72.3,347.0 L73.9,349.5 L75.4,346.1 L76.9,349.1 L78.5,341.0 L80.0,343.2 L81.6,347.0 L83.1,348.5 L84.6,344.7 L86.2,350.1 L87.7,344.6 L89.2,348.3 L90.8,343.9 L92.3,341.3 L93.8,345.9 L95.4,344.9 L96.9,344.1 L98.5,341.5 L100.0,341.9 L101.5,343.1 L103.1,343.5 L104.6,350.2 L106.1,353.7 L107.7,350.2 L109.2,332.0 L110.7,345.0 L112.3,348.4 L113.8,343.3 L115.4,345.2 L116.9,343.0 L118.4,342.8 L120.0,349.3 L121.5,348.8 L123.0,341.1 L124.6,349.7 L126.1,344.7 L127.6,348.1 L129.2,344.0 L130.7,342.5 L132.3,348.2 L133.8,341.0 L135.3,348.7 L136.9,349.0 L138.4,346.8 L139.9,345.4 L141.5,349.1 L143.0,357.9 L144.5,349.1 L146.1,344.8 L147.6,343.8 L149.2,345.6 L150.7,335.0 L152.2,343.5 L153.8,349.4 L155.3,346.1 L156.8,344.5 L158.4,343.3 L159.9,343.0 L161.4,343.7 L163.0,348.0 L164.5,339.5 L166.1,340.7 L167.6,345.2 L169.1,347.0 L170.7,341.9 L172.2,344.8 L173.7,349.1 L175.3,341.0 L176.8,345.1 L178.3,335.5 L179.9,358.1 L181.4,339.2 L183.0,346.5 L184.5,347.9 L186.0,341.9 L187.6,332.0 L189.1,348.4 L190.6,339.3 L192.2,339.4 L193.7,342.4 L195.2,347.7 L196.8,346.8 L198.3,337.9 L199.9,348.8 L201.4,348.3 L202.9,348.4 L203.9,347.7 L206.0,344.7 L207.5,344.5 L209.1,352.5 L210.6,356.2 L211.8,349.3 L213.7,358.9 L215.2,359.0 L216.8,357.9 L218.3,362.3 L219.8,359.6 L221.4,354.2 L222.9,353.7 L224.4,353.6 L226.0,360.2 L227.5,354.8 L229.0,359.1 L230.6,373.1 L231.5,367.9 L233.7,362.9 L235.2,365.7 L236.7,361.9 L238.3,363.1 L239.8,357.2 L241.3,365.2 L242.9,369.0 L244.4,369.6 L245.9,373.6 L247.5,369.8 L249.0,367.3 L250.6,365.0 L252.1,363.5 L253.6,368.4 L254.6,369.7 L256.7,372.4 L258.2,365.4 L259.8,371.3 L261.3,367.0 L262.8,369.7 L264.4,376.5 L265.9,373.0 L267.5,380.9 L269.0,375.7 L270.5,369.1 L272.1,370.8 L273.6,374.2 L275.1,379.9 L276.7,379.1 L278.2,380.7 L279.7,379.8 L280.8,380.2 L282.8,376.0 L283.7,372.5 L285.9,370.9 L287.4,372.6 L289.0,371.9 L290.5,371.3 L292.0,376.0 L293.6,378.2 L295.1,381.1 L296.6,381.0 L298.2,380.4 L299.7,379.0 L301.3,384.0 L302.8,380.8 L304.3,378.2 L305.9,376.3 L307.4,376.4 L308.9,377.7 L310.5,374.7 L312.0,375.4 L313.6,363.0 L314.5,358.3 L316.6,366.3 L318.2,374.2 L319.7,371.3 L321.2,369.6 L322.8,366.3 L324.3,367.9 L325.8,364.3 L327.4,370.6 L328.9,367.8 L330.5,369.5 L332.0,360.0 L333.5,350.8 L335.1,357.3 L336.6,358.6 L338.1,356.8 L339.4,357.5 L341.2,358.7 L342.7,360.7 L344.3,359.7 L345.8,354.8 L347.4,356.8 L348.9,359.9 L350.4,363.4 L352.0,362.2 L353.5,354.9 L355.0,357.1 L356.6,367.6 L358.1,365.0 L359.6,360.1 L361.2,355.7 L362.7,368.6 L364.3,362.8 L365.8,358.4 L367.3,359.5 L368.9,369.6 L370.4,367.0 L371.9,363.0 L373.5,367.2 L375.0,363.0 L376.5,365.8 L378.1,361.3 L379.6,372.6 L381.2,367.9 L382.7,361.5 L384.2,371.3 L385.8,364.8 L387.3,370.2 L388.8,369.5 L390.4,363.0 L391.9,364.6 L393.4,364.5 L395.0,373.5 L396.5,367.3 L398.1,367.5 L399.6,364.7 L401.1,363.6 L402.7,376.6 L404.2,369.4 L405.7,367.7 L407.3,366.1 L408.8,369.9 L410.3,370.1 L411.9,367.8 L413.4,366.2 L415.0,360.5 L416.5,369.6 L418.0,366.1 L419.6,370.1 L421.1,359.9 L422.6,370.1 L424.2,366.3 L425.7,362.2 L427.2,371.9 L428.8,372.8 L430.3,366.1 L431.9,371.2 L433.4,363.1 L434.9,372.2 L436.5,374.2 L438.0,375.1 L439.5,371.9 L441.1,381.0 L442.6,373.2 L444.1,373.4 L445.7,382.4 L447.2,377.2 L448.8,376.9 L450.3,369.3 L451.8,373.9 L453.4,373.9 L454.9,375.4 L455.8,369.0 L458.0,371.1 L459.5,380.6 L461.0,373.4 L462.6,373.8 L464.0,376.8" fill="none" stroke="#0072BD" stroke-width="1.7" stroke-linejoin="round" stroke-linecap="round"/>
<path d="M465.7,363.2 L467.2,352.9 L468.7,353.5 L470.3,350.8 L471.8,348.3 L473.3,347.8 L474.9,350.3 L476.4,352.4 L477.9,354.0 L479.5,353.7 L481.0,349.2 L482.6,348.1 L484.1,348.4 L485.6,343.8 L487.2,344.1 L488.7,343.0 L490.2,340.2 L491.8,337.7 L493.3,330.4 L494.8,325.8 L496.4,313.7 L497.5,307.1 L499.5,299.1 L501.0,302.1 L501.8,305.1 L502.5,303.9 L504.1,291.0 L505.6,288.8 L507.1,291.9 L507.9,292.6 L508.7,293.8 L510.2,298.1 L511.7,292.1 L513.0,288.7 L514.8,288.5 L516.4,289.8 L517.9,289.5 L519.4,290.8 L521.0,291.6 L522.5,295.0 L524.0,289.5 L525.4,283.8 L527.1,288.5 L528.0,291.8 L530.2,307.1 L531.7,300.6 L533.3,286.5" fill="none" stroke="#0072BD" stroke-width="3.2" stroke-linejoin="round" stroke-linecap="round"/>
<path d="M46.2,342.4 L47.8,344.9 L49.3,345.9 L50.8,345.1 L52.4,346.0 L53.9,344.5 L55.4,338.9 L57.0,340.9 L58.5,342.3 L60.0,349.7 L61.6,350.1 L63.1,342.3 L64.7,343.4 L66.2,347.8 L67.7,342.9 L69.3,348.5 L70.8,336.7 L72.3,347.4 L73.9,341.1 L75.4,344.0 L76.9,341.1 L78.5,337.6 L80.0,336.7 L81.6,338.0 L83.1,339.5 L84.6,347.0 L86.2,339.1 L87.7,347.8 L89.2,342.6 L90.8,345.2 L92.3,334.9 L93.8,335.1 L95.4,347.9 L96.9,345.5 L98.5,346.2 L100.0,343.1 L101.5,341.0 L103.1,339.7 L104.6,348.6 L106.1,341.8 L107.7,339.3 L109.2,344.9 L110.7,341.4 L112.3,343.6 L113.8,341.6 L115.4,346.4 L116.9,342.6 L118.4,341.4 L120.0,343.2 L121.5,340.3 L123.0,345.5 L124.6,343.6 L126.1,344.6 L127.6,342.1 L129.2,351.0 L130.7,338.4 L132.3,344.3 L133.8,348.7 L135.3,344.9 L136.9,336.7 L138.4,344.3 L139.9,344.4 L141.5,343.9 L143.0,341.0 L144.5,337.7 L146.1,339.3 L147.6,340.0 L149.2,344.2 L150.7,343.4 L152.2,346.3 L153.8,346.7 L155.3,348.8 L156.8,346.7 L158.4,337.7 L159.9,342.3 L161.4,343.1 L163.0,346.3 L164.5,343.9 L166.1,347.0 L167.6,349.8 L169.1,341.4 L170.7,341.4 L172.2,338.1 L173.7,348.5 L175.3,340.3 L176.8,341.8 L178.3,337.6 L179.9,349.0 L181.4,344.8 L183.0,347.0 L184.5,343.0 L186.0,341.2 L187.6,338.8 L189.1,340.1 L190.6,340.2 L192.2,339.4 L193.7,344.6 L195.2,339.7 L196.8,333.8 L198.3,343.2 L199.9,342.9 L201.4,332.6 L202.9,338.5 L204.5,337.2 L206.0,331.0 L207.5,328.9 L209.1,324.4 L210.6,333.9 L212.1,330.6 L213.7,332.8 L215.2,331.8 L216.8,330.6 L218.3,333.3 L219.8,322.0 L221.4,325.0 L222.9,330.1 L224.4,323.1 L226.0,322.8 L227.5,323.7 L229.0,316.0 L230.3,313.4 L232.1,307.6 L233.0,309.8 L235.2,303.5 L236.6,296.8 L238.3,307.4 L239.8,311.8 L240.7,313.9 L242.9,313.4 L243.6,315.5 L244.4,312.1 L245.9,301.8 L247.5,300.6 L248.9,297.5 L250.6,304.3 L251.8,312.8 L253.6,303.2 L255.2,297.6 L256.7,298.1 L258.1,295.3 L259.8,301.2 L261.0,306.0 L262.8,295.3 L264.4,296.1 L265.9,291.5 L267.5,287.6 L268.5,281.9 L270.2,296.9 L272.1,291.3 L273.6,284.2 L275.1,287.2 L276.7,297.7 L278.2,290.4 L279.7,285.0 L280.8,281.9 L282.8,286.5 L284.4,282.9 L285.9,281.0 L286.8,277.7 L289.0,291.0 L290.5,289.6 L292.0,281.5 L293.3,275.9 L295.1,284.3 L296.0,287.4 L298.2,278.2 L299.7,277.0 L301.3,279.0 L302.8,282.1 L304.3,280.5 L305.4,287.7 L307.4,280.2 L308.3,275.9 L310.2,282.3 L312.0,300.3 L313.2,318.6 L315.1,315.3 L316.6,308.8 L318.2,283.5 L319.7,303.9 L321.2,309.8 L322.8,312.6 L324.3,303.5 L325.8,303.2 L327.4,297.7 L328.8,291.2 L330.5,306.1 L332.0,303.8 L333.5,307.8 L335.1,309.9 L336.6,314.4 L338.1,306.5 L339.7,303.7 L341.2,301.5 L342.7,300.9 L343.7,300.3 L345.8,302.6 L347.4,310.0 L348.9,313.2 L350.4,303.7 L352.0,307.1 L353.5,297.2 L355.0,297.8 L356.6,294.9 L357.5,291.8 L359.6,293.8 L361.2,291.7 L362.7,292.2 L364.3,292.8 L365.8,293.2 L367.3,300.4 L368.9,300.6 L370.4,299.1 L371.9,303.7 L373.5,304.5 L375.0,303.3 L376.1,309.3 L378.1,309.5 L379.6,300.1 L381.2,300.9 L382.7,292.0 L383.5,293.2 L384.2,296.4 L385.8,295.9 L387.3,292.6 L388.8,292.8 L390.4,298.1 L391.9,296.6 L393.0,294.4 L395.0,292.3 L396.5,293.1 L398.1,295.7 L399.6,297.2 L401.1,289.5 L402.7,293.8 L404.2,296.6 L405.7,293.6 L407.3,297.8 L408.8,294.3 L410.3,291.4 L411.9,294.5 L413.4,293.1 L415.0,292.5 L416.5,291.4 L418.0,296.1 L419.3,293.2 L421.1,294.0 L422.6,288.0 L424.2,288.8 L425.7,292.1 L427.2,284.7 L428.8,289.9 L430.3,292.2 L431.9,290.3 L433.4,288.0 L434.9,291.9 L436.5,289.3 L438.0,283.6 L439.5,287.1 L441.1,284.7 L442.0,283.9 L444.1,279.3 L445.7,277.6 L447.2,276.4 L448.8,281.0 L450.3,283.4 L451.8,283.0 L453.4,286.0 L454.9,288.5 L456.4,293.9 L458.0,285.9 L459.5,284.9 L461.0,286.6 L462.6,288.6 L464.1,283.6" fill="none" stroke="#D95319" stroke-width="3.2" stroke-linejoin="round" stroke-linecap="round"/>
<path d="M464.1,283.6 L465.7,294.2 L467.2,297.4 L468.7,311.7 L469.8,324.7 L471.8,325.3 L473.3,331.1 L474.9,333.5 L476.4,325.4 L477.9,330.6 L479.5,335.4 L480.4,333.9 L482.6,335.8 L484.1,343.6 L485.6,336.3 L487.2,344.3 L488.7,344.4 L490.2,344.2 L491.8,350.1 L493.3,346.2 L494.5,349.6 L496.4,351.5 L497.9,361.3 L499.1,363.5 L501.0,366.5 L502.5,368.4 L504.1,368.2 L505.6,368.0 L507.1,368.0 L508.4,371.8 L510.2,370.3 L511.7,375.1 L513.3,369.1 L514.8,371.0 L516.4,370.3 L517.9,367.1 L519.4,364.7 L521.0,372.1 L522.5,367.5 L524.0,369.5 L525.6,365.1 L527.1,369.3 L528.6,368.2 L530.2,362.0 L531.7,362.9 L532.8,371.6" fill="none" stroke="#D95319" stroke-width="1.7" stroke-linejoin="round" stroke-linecap="round"/>
<line x1="45.0" y1="344.5" x2="533.8" y2="344.5" stroke="#2a2a2a" stroke-width="1.1" stroke-dasharray="2.5,1.7"/>
<line x1="45.0" y1="254.3" x2="45.0" y2="390.05" stroke="#8a8a8a" stroke-width="1.5"/>
<line x1="44.25" y1="389.5" x2="533.8" y2="389.5" stroke="#555" stroke-width="1.1"/>
<line x1="41.8" y1="389.3" x2="45.0" y2="389.3" stroke="#333" stroke-width="1"/>
<text transform="translate(38.3,394.5) scale(1.0,1)" text-anchor="end" class="t">0</text>
<line x1="41.8" y1="362.3" x2="45.0" y2="362.3" stroke="#333" stroke-width="1"/>
<text transform="translate(38.3,367.5) scale(1.0,1)" text-anchor="end" class="t">0.2</text>
<line x1="41.8" y1="335.3" x2="45.0" y2="335.3" stroke="#333" stroke-width="1"/>
<text transform="translate(38.3,340.5) scale(1.0,1)" text-anchor="end" class="t">0.4</text>
<line x1="41.8" y1="308.3" x2="45.0" y2="308.3" stroke="#333" stroke-width="1"/>
<text transform="translate(38.3,313.5) scale(1.0,1)" text-anchor="end" class="t">0.6</text>
<line x1="41.8" y1="281.3" x2="45.0" y2="281.3" stroke="#333" stroke-width="1"/>
<text transform="translate(38.3,286.5) scale(1.0,1)" text-anchor="end" class="t">0.8</text>
<line x1="41.8" y1="254.3" x2="45.0" y2="254.3" stroke="#333" stroke-width="1"/>
<text transform="translate(38.3,259.5) scale(1.0,1)" text-anchor="end" class="t">1</text>
<line x1="44.7" y1="389.5" x2="44.7" y2="393.1" stroke="#333" stroke-width="1"/>
<text transform="translate(44.7,406.8) scale(1.0,1)" text-anchor="middle" class="t">0</text>
<line x1="121.5" y1="389.5" x2="121.5" y2="393.1" stroke="#333" stroke-width="1"/>
<text transform="translate(121.5,406.8) scale(1.0,1)" text-anchor="middle" class="t">50</text>
<line x1="198.3" y1="389.5" x2="198.3" y2="393.1" stroke="#333" stroke-width="1"/>
<text transform="translate(198.3,406.8) scale(1.0,1)" text-anchor="middle" class="t">100</text>
<line x1="275.1" y1="389.5" x2="275.1" y2="393.1" stroke="#333" stroke-width="1"/>
<text transform="translate(275.1,406.8) scale(1.0,1)" text-anchor="middle" class="t">150</text>
<line x1="352.0" y1="389.5" x2="352.0" y2="393.1" stroke="#333" stroke-width="1"/>
<text transform="translate(352.0,406.8) scale(1.0,1)" text-anchor="middle" class="t">200</text>
<line x1="428.8" y1="389.5" x2="428.8" y2="393.1" stroke="#333" stroke-width="1"/>
<text transform="translate(428.8,406.8) scale(1.0,1)" text-anchor="middle" class="t">250</text>
<line x1="505.6" y1="389.5" x2="505.6" y2="393.1" stroke="#333" stroke-width="1"/>
<text transform="translate(505.6,406.8) scale(1.0,1)" text-anchor="middle" class="t">300</text>
<rect x="635.8" y="36.400000000000006" width="43.8" height="134.5" fill="#F4F4F9"/>
<rect x="584.4" y="161.3" width="12.4" height="9.6" fill="#0072BD"/>
<rect x="596.8" y="71.0" width="12.1" height="99.9" fill="#D95319"/>
<rect x="608.9" y="145.9" width="12.4" height="25.0" fill="#EDB120"/>
<rect x="640.0" y="116.6" width="12.2" height="54.3" fill="#0072BD"/>
<rect x="652.2" y="132.2" width="12.1" height="38.7" fill="#D95319"/>
<rect x="664.3" y="130.1" width="12.3" height="40.8" fill="#EDB120"/>
<line x1="578.0" y1="126.5" x2="685" y2="126.5" stroke="#2a2a2a" stroke-width="1.1" stroke-dasharray="2.5,1.7"/>
<line x1="578.0" y1="36.400000000000006" x2="578.0" y2="171.65" stroke="#8a8a8a" stroke-width="1.5"/>
<line x1="577.25" y1="170.9" x2="685" y2="170.9" stroke="#8a8a8a" stroke-width="1.5"/>
<line x1="574.8" y1="170.9" x2="578.0" y2="170.9" stroke="#333" stroke-width="1"/>
<text transform="translate(570.5,175.6) scale(1.0,1)" text-anchor="end" class="t">0</text>
<line x1="574.8" y1="144.0" x2="578.0" y2="144.0" stroke="#333" stroke-width="1"/>
<text transform="translate(570.5,148.7) scale(1.0,1)" text-anchor="end" class="t">0.2</text>
<line x1="574.8" y1="117.1" x2="578.0" y2="117.1" stroke="#333" stroke-width="1"/>
<text transform="translate(570.5,121.8) scale(1.0,1)" text-anchor="end" class="t">0.4</text>
<line x1="574.8" y1="90.2" x2="578.0" y2="90.2" stroke="#333" stroke-width="1"/>
<text transform="translate(570.5,94.9) scale(1.0,1)" text-anchor="end" class="t">0.6</text>
<line x1="574.8" y1="63.3" x2="578.0" y2="63.3" stroke="#333" stroke-width="1"/>
<text transform="translate(570.5,68.0) scale(1.0,1)" text-anchor="end" class="t">0.8</text>
<line x1="574.8" y1="36.4" x2="578.0" y2="36.4" stroke="#333" stroke-width="1"/>
<text transform="translate(570.5,41.1) scale(1.0,1)" text-anchor="end" class="t">1</text>
<text transform="translate(646.0,116.3) scale(1.0,1)" text-anchor="middle" class="star">*</text>
<text transform="translate(603.0,183.9) scale(1.0,1)" text-anchor="middle" class="a">Color</text>
<text transform="translate(603.0,195.5) scale(1.0,1)" text-anchor="middle" class="a">(Standard)</text>
<text transform="translate(658.5,183.9) scale(1.0,1)" text-anchor="middle" class="a">Shape</text>
<text transform="translate(658.5,195.5) scale(1.0,1)" text-anchor="middle" class="a">(Probe)</text>
<rect x="635.8" y="254.3" width="43.8" height="135.0" fill="#F4F4F9"/>
<rect x="584.5" y="286.2" width="12.6" height="103.1" fill="#0072BD"/>
<rect x="597.1" y="372.7" width="12.0" height="16.6" fill="#D95319"/>
<rect x="609.1" y="374.0" width="12.3" height="15.3" fill="#EDB120"/>
<rect x="639.8" y="351.0" width="12.3" height="38.3" fill="#0072BD"/>
<rect x="652.1" y="331.7" width="12.2" height="57.6" fill="#D95319"/>
<rect x="664.3" y="350.0" width="12.6" height="39.3" fill="#EDB120"/>
<line x1="578.0" y1="344.5" x2="685" y2="344.5" stroke="#2a2a2a" stroke-width="1.1" stroke-dasharray="2.5,1.7"/>
<line x1="578.0" y1="254.3" x2="578.0" y2="390.05" stroke="#8a8a8a" stroke-width="1.5"/>
<line x1="577.25" y1="389.5" x2="685" y2="389.5" stroke="#5a5a5a" stroke-width="1.1"/>
<line x1="574.8" y1="389.3" x2="578.0" y2="389.3" stroke="#333" stroke-width="1"/>
<text transform="translate(570.5,394.0) scale(1.0,1)" text-anchor="end" class="t">0</text>
<line x1="574.8" y1="362.3" x2="578.0" y2="362.3" stroke="#333" stroke-width="1"/>
<text transform="translate(570.5,367.0) scale(1.0,1)" text-anchor="end" class="t">0.2</text>
<line x1="574.8" y1="335.3" x2="578.0" y2="335.3" stroke="#333" stroke-width="1"/>
<text transform="translate(570.5,340.0) scale(1.0,1)" text-anchor="end" class="t">0.4</text>
<line x1="574.8" y1="308.3" x2="578.0" y2="308.3" stroke="#333" stroke-width="1"/>
<text transform="translate(570.5,313.0) scale(1.0,1)" text-anchor="end" class="t">0.6</text>
<line x1="574.8" y1="281.3" x2="578.0" y2="281.3" stroke="#333" stroke-width="1"/>
<text transform="translate(570.5,286.0) scale(1.0,1)" text-anchor="end" class="t">0.8</text>
<line x1="574.8" y1="254.3" x2="578.0" y2="254.3" stroke="#333" stroke-width="1"/>
<text transform="translate(570.5,259.0) scale(1.0,1)" text-anchor="end" class="t">1</text>
<text transform="translate(657.9,331.9) scale(1.0,1)" text-anchor="middle" class="star">*</text>
<text transform="translate(603.0,402.3) scale(1.0,1)" text-anchor="middle" class="a">Color</text>
<text transform="translate(603.0,413.9) scale(1.0,1)" text-anchor="middle" class="a">(Standard)</text>
<text transform="translate(658.5,402.3) scale(1.0,1)" text-anchor="middle" class="a">Shape</text>
<text transform="translate(658.5,413.9) scale(1.0,1)" text-anchor="middle" class="a">(Probe)</text>
<text transform="translate(225.0,12.0) scale(1.0,1)" text-anchor="middle" class="ti">Phase 2.1</text><text transform="translate(225.0,25.2) scale(1.0,1)" text-anchor="middle" class="ti">Shape</text>
<text transform="translate(417.2,12.0) scale(1.0,1)" text-anchor="middle" class="ti">Phase 2.2</text><text transform="translate(417.2,25.2) scale(1.0,1)" text-anchor="middle" class="ti">Color</text>
<text transform="translate(495.5,12.0) scale(1.0,1)" text-anchor="middle" class="ti">Phase 2.3</text><text transform="translate(495.5,25.2) scale(1.0,1)" text-anchor="middle" class="ti">Color</text>
<text transform="translate(618.0,12.0) scale(1.0,1)" text-anchor="middle" class="ti">Phase 2.4</text>
<text transform="translate(240.0,230.9) scale(1.0,1)" text-anchor="middle" class="ti">Phase 2.1</text><text transform="translate(240.0,243.7) scale(1.0,1)" text-anchor="middle" class="ti">Shape</text>
<text transform="translate(432.4,230.9) scale(1.0,1)" text-anchor="middle" class="ti">Phase 2.2</text><text transform="translate(432.4,243.7) scale(1.0,1)" text-anchor="middle" class="ti">Color</text>
<text transform="translate(503.0,230.9) scale(1.0,1)" text-anchor="middle" class="ti">Phase 2.3</text><text transform="translate(503.0,243.7) scale(1.0,1)" text-anchor="middle" class="ti">Color</text>
<text transform="translate(633.5,230.9) scale(1.0,1)" text-anchor="middle" class="ti">Phase 2.4</text>
<text transform="translate(155.0,82.8) scale(1.0,1)" text-anchor="middle" class="a">Animation</text><text transform="translate(155.0,94.6) scale(1.0,1)" text-anchor="middle" class="a">Added</text>
<line x1="158.6" y1="99.1" x2="165.4" y2="119.0" stroke="#000" stroke-width="1.35"/><polygon points="167.2,124.3 161.2,118.1 165.4,119.0 168.2,115.7" fill="#000"/>
<text transform="translate(359.4,48.2) scale(1.0,1)" text-anchor="middle" class="a">Animation</text><text transform="translate(359.4,60.0) scale(1.0,1)" text-anchor="middle" class="a">Removed</text>
<line x1="331.4" y1="56.0" x2="318.4" y2="57.2" stroke="#000" stroke-width="1.35"/><polygon points="312.8,57.7 320.2,53.3 318.4,57.2 320.9,60.7" fill="#000"/>
<text transform="translate(484.0,57.4) scale(1.0,1)" text-anchor="middle" class="a">Rule</text><text transform="translate(484.0,69.2) scale(1.0,1)" text-anchor="middle" class="a">Change</text>
<line x1="466.9" y1="55.9" x2="454.8" y2="49.1" stroke="#000" stroke-width="1.35"/><polygon points="449.9,46.4 458.5,47.0 454.8,49.1 454.9,53.4" fill="#000"/>
<text transform="translate(171.8,302.3) scale(1.0,1)" text-anchor="middle" class="a">Animation</text><text transform="translate(171.8,314.1) scale(1.0,1)" text-anchor="middle" class="a">Added</text>
<line x1="175.1" y1="318.3" x2="185.4" y2="337.5" stroke="#000" stroke-width="1.35"/><polygon points="188.1,342.4 181.1,337.3 185.4,337.5 187.7,333.8" fill="#000"/>
<text transform="translate(364.3,272.6) scale(1.0,1)" text-anchor="middle" class="a">Animation</text><text transform="translate(364.3,284.4) scale(1.0,1)" text-anchor="middle" class="a">Removed</text>
<line x1="336.5" y1="277.0" x2="315.4" y2="281.6" stroke="#000" stroke-width="1.35"/><polygon points="309.9,282.8 316.7,277.5 315.4,281.6 318.3,284.8" fill="#000"/>
<text transform="translate(502.6,265.8) scale(1.0,1)" text-anchor="middle" class="a">Rule</text><text transform="translate(502.6,277.6) scale(1.0,1)" text-anchor="middle" class="a">Change</text>
<line x1="479.0" y1="274.8" x2="468.6" y2="281.0" stroke="#000" stroke-width="1.35"/><polygon points="463.8,283.9 468.6,276.7 468.6,281.0 472.4,283.1" fill="#000"/>
<text transform="translate(290.3,204.5) scale(1.0,1)" text-anchor="middle" class="t">Block (200 trials)</text>
<text transform="translate(289.1,423.0) scale(1.0,1)" text-anchor="middle" class="t">Block (200 trials)</text>
<text transform="translate(12.4,103.6) scale(1.0,1) rotate(-90)" text-anchor="middle" class="t yl">Proportion Selected</text>
<text transform="translate(12.4,322.0) scale(1.0,1) rotate(-90)" text-anchor="middle" class="t yl">Proportion Selected</text>
<text transform="translate(50.3,164.9) scale(1.0,1)" class="t">Zelda</text>
<text transform="translate(50.3,383.3) scale(1.0,1)" class="t">Zoe</text>
<line x1="52.9" y1="48.1" x2="71.1" y2="48.1" stroke="#0072BD" stroke-width="4.2"/>
<text transform="translate(75.0,52.8) scale(1.0,1)" class="t">BAA</text>
<line x1="52.9" y1="64.5" x2="71.1" y2="64.5" stroke="#D95319" stroke-width="4.2"/>
<text transform="translate(75.0,69.2) scale(1.0,1)" class="t">AAB</text>
<line x1="52.9" y1="80.9" x2="71.1" y2="80.9" stroke="#EDB120" stroke-width="4.2"/>
<text transform="translate(75.0,85.6) scale(1.0,1)" class="t">ABA</text>
</svg>
</body></html>
